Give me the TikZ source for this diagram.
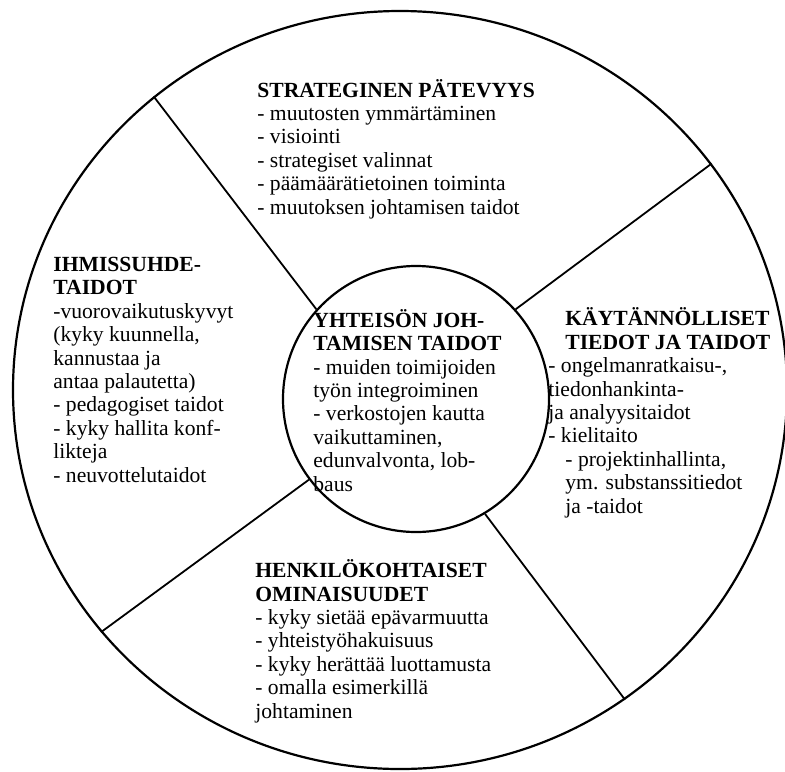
\documentclass[tikz,border=0pt]{standalone}
\usepackage{fontspec}
\setmainfont{Liberation Serif}
\usetikzlibrary{shapes.geometric}

\begin{document}
\begin{tikzpicture}[x=0.5pt,y=-0.5pt,
  ring/.style={draw,line width=1.1pt,inner sep=0pt},
  divider/.style={line width=0.9pt},
  blocktext/.style={anchor=base west,align=left,inner sep=0pt,
                    font=\fontsize{10.8}{11.7}\selectfont}]

  \useasboundingbox (0,0) rectangle (785,771);

  % outer ring and the hub
  \node[ring,ellipse,minimum width=387pt,minimum height=379pt] (outer) at (400,390) {};
  \node[ring,circle,minimum size=133pt] (hub) at (416,399) {};

  % dividers between the sectors
  \draw[divider] (hub.138) -- (outer.130);
  \draw[divider] (hub.42) -- (outer.36);
  \draw[divider] (hub.217) -- (outer.219);
  \draw[divider] (hub.301) -- (outer.306);

  % sector texts (placed at the baseline of the last line)
  \node[blocktext] (strat) at (257,214) {\textbf{STRATEGINEN PÄTEVYYS}\\- muutosten ymmärtäminen\\- visiointi\\- strategiset valinnat\\- päämäärätietoinen toiminta\\- muutoksen johtamisen taidot};
  \node[blocktext] (ihmis) at (53,482) {\textbf{IHMISSUHDE-}\\\textbf{TAIDOT}\\-vuorovaikutuskyvyt\\(kyky kuunnella,\\kannustaa ja\\antaa palautetta)\\- pedagogiset taidot\\- kyky hallita konf-\\likteja\\- neuvottelutaidot};
  \node[blocktext] (yhteis) at (313,491) {\textbf{YHTEISÖN JOH-}\\\textbf{TAMISEN TAIDOT}\\- muiden toimijoiden\\työn integroiminen\\- verkostojen kautta\\vaikuttaminen,\\edunvalvonta, lob-\\baus};
  \node[blocktext] (kaytan) at (548,513) {\hspace*{8.5pt}\textbf{KÄYTÄNNÖLLISET}\\\hspace*{8.5pt}\textbf{TIEDOT JA TAIDOT}\\- ongelmanratkaisu-,\\tiedonhankinta-\\ja analyysitaidot\\- kielitaito\\\hspace*{8.5pt}- projektinhallinta,\\\hspace*{8.5pt}ym. substanssitiedot\\\hspace*{8.5pt}ja -taidot};
  \node[blocktext] (henk) at (255,718) {\textbf{HENKILÖKOHTAISET}\\\textbf{OMINAISUUDET}\\- kyky sietää epävarmuutta\\- yhteistyöhakuisuus\\- kyky herättää luottamusta\\- omalla esimerkillä\\johtaminen};

\end{tikzpicture}
\end{document}
